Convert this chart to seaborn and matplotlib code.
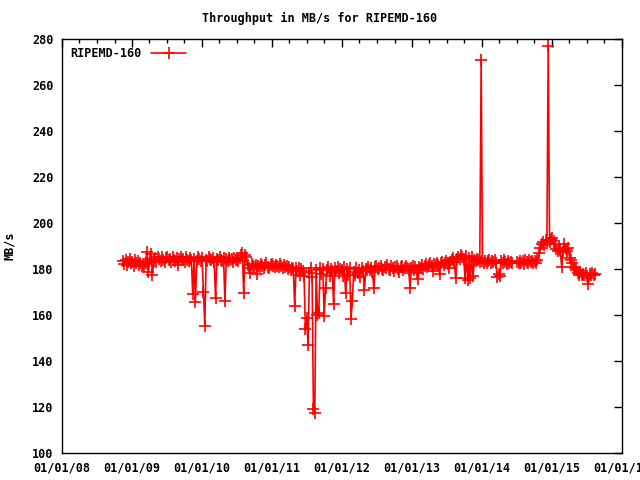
import numpy as np
import pandas as pd
import matplotlib
matplotlib.use("Agg")
import matplotlib.pyplot as plt
import matplotlib.dates as mdates
import seaborn as sns

# weekly throughput samples (MB/s)
start_date = "2008-11-14"
title = "Throughput in MB/s for RIPEMD-160"
series_name = "RIPEMD-160"

seg_2008 = [183.5, 182.1, 184.0, 181.6, 183.2, 184.3, 182.4, 183.0, 181.3, 184.1,
            182.7, 183.6, 181.8, 182.5, 181.2, 182.0, 181.4, 182.6,
            187.4, 178.7, 184.2, 186.5, 177.4]
seg_2009 = [183.6, 184.8, 183.1, 185.0, 184.2, 183.4, 185.3, 184.0, 182.9, 184.6,
            185.1, 183.7, 184.4, 183.0, 185.2, 184.1, 183.5, 184.9, 181.7, 184.3,
            185.0, 183.8, 184.5, 183.2, 185.4, 184.0, 183.6, 184.7, 183.9, 169.0,
            184.4, 165.7, 183.5, 185.1, 184.2, 183.4, 184.8, 170.0, 155.2, 184.1,
            183.3, 185.0, 184.3, 183.7, 184.6, 183.1, 167.4, 184.5, 183.9, 185.2,
            184.0, 183.4, 184.7, 166.0, 184.2, 183.6, 184.9, 183.8, 184.4, 183.2,
            184.6, 183.9, 184.3, 183.5, 184.8,
            185.9, 187.0, 169.6, 186.3, 185.2]
seg_2010 = [181.8, 180.6, 178.3, 182.0, 181.2, 180.7, 181.9, 178.0, 181.5, 180.9,
            182.2, 181.3, 180.5, 181.8, 182.4, 181.0, 180.6, 181.7, 182.1, 181.2,
            180.8, 181.9, 181.4, 180.7, 182.0, 181.1, 180.4, 181.6, 180.9, 181.3,
            180.2, 180.8, 179.6, 180.4, 179.9, 164.0]
seg_2011 = [180.3, 179.2, 180.6, 177.5, 180.1, 179.0, 176.8, 154.0, 158.7, 147.0,
            178.2, 180.4, 176.5, 119.0, 117.5, 179.6, 160.0, 161.0, 180.5, 177.8,
            180.2, 159.6, 171.7, 179.4, 180.8, 177.0, 180.1, 179.3, 164.8, 180.6,
            179.0, 180.9, 178.4, 180.2, 179.5, 176.9, 180.7, 169.6, 179.8, 177.6,
            180.4, 158.3, 166.0, 178.8, 177.2, 180.3, 178.1, 179.6, 176.4, 180.5,
            179.1, 170.8, 180.2, 179.4, 181.0, 179.7, 180.6, 178.9, 171.7]
seg_2012 = [180.8, 181.5, 179.9, 180.6, 181.3, 180.2, 179.5, 181.0, 180.4, 181.6,
            180.1, 179.7, 181.2, 180.5, 179.3, 180.9, 181.4, 180.0, 178.6, 180.7,
            181.1, 179.4, 180.3, 181.5, 180.6, 179.8, 171.7, 180.4, 181.2, 179.6,
            180.8, 178.2, 175.6, 181.0, 180.5, 181.7, 180.2]
seg_2013 = [181.2, 182.0, 180.7, 181.8, 182.4, 181.1, 179.0, 182.3, 181.6, 182.8,
            181.9, 177.8, 182.5, 183.1, 181.8, 182.7, 183.3, 182.1, 180.5, 183.0,
            183.8, 184.6, 182.9, 176.3, 184.2, 185.3, 184.5, 186.0, 185.1, 184.3,
            176.2, 185.6, 175.4, 184.8, 176.0, 185.2, 177.1, 184.0, 183.5, 184.4,
            183.7, 183.2, 271.0, 183.4]
seg_2014 = [182.8, 183.6, 182.4, 183.3, 184.0, 182.7, 183.5, 182.9, 183.8, 182.5,
            176.5, 178.0, 176.8, 183.4, 182.6, 183.7, 183.0, 182.3, 183.5, 182.8,
            183.2, 182.6, np.nan, np.nan, np.nan,
            183.1, 182.4, 183.6, 182.8, 183.4, 182.2, 183.7, 183.0, 182.5, 183.8,
            182.9, 183.3, 182.6, 183.5, 182.7, 183.9, 186.8, 189.0]
seg_2015 = [190.8, 191.9, 190.6, 192.4, 191.3, 277.0, 191.7, 192.9, 193.4, 192.1,
            191.0, 188.7, 187.9, 189.2, 188.3, 181.0, 187.6, 191.0, 188.5, 187.8,
            189.3, 184.6, 183.8, 182.4, 181.0, 180.3, 179.4, 178.2, 177.6, 178.5,
            177.3, 178.0, 177.5, 178.4, 177.1, 173.5, 177.9, 177.4, 178.3, 177.6,
            178.0]

values = seg_2008 + seg_2009 + seg_2010 + seg_2011 + seg_2012 + seg_2013 + seg_2014 + seg_2015
dates = pd.date_range(start_date, periods=len(values), freq="7D")
df = pd.DataFrame({"date": dates, "mbs": values})

sns.set_style("white")
plt.rcParams["font.family"] = ["DejaVu Sans Mono"]
plt.rcParams["font.weight"] = "bold"
plt.rcParams["text.color"] = "black"
plt.rcParams["axes.labelcolor"] = "black"
plt.rcParams["xtick.color"] = "black"
plt.rcParams["ytick.color"] = "black"

fig = plt.figure(figsize=(6.4, 4.8), dpi=100)
ax = fig.add_axes([62 / 640, 27 / 480, 560 / 640, 414 / 480])

sns.lineplot(data=df, x="date", y="mbs", color="red", linewidth=1.2,
             marker="+", markersize=8, markeredgewidth=1.2, markeredgecolor="red",
             estimator=None, sort=False, label=series_name, ax=ax)

ax.set_xlim(pd.Timestamp("2008-01-01"), pd.Timestamp("2016-01-01"))
ax.set_ylim(100, 280)
ax.set_yticks(range(100, 281, 20))
ax.xaxis.set_major_locator(mdates.YearLocator())
ax.xaxis.set_minor_locator(mdates.MonthLocator(bymonth=[4, 7, 10]))
ax.xaxis.set_major_formatter(mdates.DateFormatter("%m/%d/%y"))

ax.tick_params(which="both", direction="in", top=True, right=True,
               labelsize=8.5, colors="black", width=1)
ax.tick_params(which="major", length=6, pad=6)
ax.tick_params(which="minor", length=3)
for lab in ax.get_xticklabels() + ax.get_yticklabels():
    lab.set_fontweight("bold")
for s in ax.spines.values():
    s.set_color("black")
    s.set_linewidth(1)

ax.set_xlabel("")
ax.set_ylabel("MB/s", fontsize=8.5, fontweight="bold", labelpad=12, color="black")
fig.text(0.5, 1 - 18 / 480, title, ha="center", va="center",
         fontsize=8.5, fontweight="bold", color="black")

leg = ax.legend(loc="upper left", frameon=False, markerfirst=False,
                handlelength=3, fontsize=8.5, borderaxespad=0.3)
for t in leg.get_texts():
    t.set_fontweight("bold")
    t.set_color("black")

fig.savefig("out.png", dpi=100)
